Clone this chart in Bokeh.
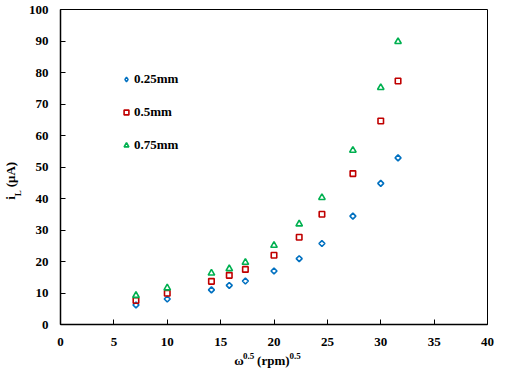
import math
from bokeh.plotting import figure
from bokeh.models import Range1d, Legend, LegendItem, FixedTicker, LinearAxis
from bokeh.embed import file_html
from bokeh.resources import INLINE

# ---- data ----
x_sqrt_rpm = [7.07, 10.0, 14.14, 15.81, 17.32, 20.0, 22.36, 24.49, 27.39, 30.0, 31.62]
i_025mm = [6.2, 8.1, 11.0, 12.4, 13.8, 17.0, 20.9, 25.7, 34.4, 44.8, 52.9]
i_05mm = [7.6, 9.9, 13.7, 15.6, 17.5, 22.0, 27.7, 35.0, 47.9, 64.6, 77.3]
i_075mm = [9.2, 11.6, 16.3, 17.7, 19.7, 25.1, 31.9, 40.3, 55.3, 75.2, 89.8]
series_names = ["0.25mm", "0.5mm", "0.75mm"]
x_ticks = [0, 5, 10, 15, 20, 25, 30, 35, 40]
y_ticks = [0, 10, 20, 30, 40, 50, 60, 70, 80, 90, 100]

# axis title pieces (text) and where along the axis they are centred (layout)
x_title_main = {16.72: "ω", 19.94: "(rpm)"}
x_title_sup = {17.63: "0.5", 21.97: "0.5"}
y_title_main = {40.2: "i", 47.6: "(μA)"}
y_title_sub = {41.7: "L"}

FONT = "Liberation Serif"
FS = "13px"
FS_SMALL = "9px"

W, H = 514, 373
L, T, R, B = 58, 9, 27, 49

p = figure(width=W, height=H, output_backend="svg", toolbar_location=None,
           x_range=Range1d(0, 40), y_range=Range1d(0, 100),
           min_border_left=L, min_border_top=T, min_border_right=R, min_border_bottom=B,
           background_fill_color="white", border_fill_color="white")
p.outline_line_color = "black"
p.outline_line_width = 1
p.xgrid.visible = False
p.ygrid.visible = False

xa, ya = p.xaxis[0], p.yaxis[0]
for ax in (xa, ya):
    ax.axis_line_color = "black"
    ax.axis_line_width = 1.5
    ax.major_tick_in = 5
    ax.major_tick_out = 0
    ax.major_tick_line_color = "black"
    ax.minor_tick_line_color = None
    ax.major_label_text_font = FONT
    ax.major_label_text_font_style = "bold"
    ax.major_label_text_font_size = FS
    ax.major_label_text_color = "black"
xa.ticker = FixedTicker(ticks=x_ticks)
ya.ticker = FixedTicker(ticks=y_ticks)
xa.major_label_standoff = 13
ya.major_label_standoff = 12


def title_axis(pieces, size, standoff, vertical=False):
    ax = LinearAxis(ticker=FixedTicker(ticks=list(pieces.keys())),
                    major_label_overrides=dict(pieces),
                    axis_line_color=None, major_tick_line_color=None,
                    minor_tick_line_color=None, major_tick_in=0, major_tick_out=0,
                    major_label_standoff=standoff,
                    major_label_text_font=FONT, major_label_text_font_style="bold",
                    major_label_text_font_size=size, major_label_text_color="black")
    if vertical:
        ax.major_label_orientation = "vertical"
    return ax


# x title: ω^0.5 (rpm)^0.5  (superscripts first, main text pulled up beside them)
p.add_layout(title_axis(x_title_sup, FS_SMALL, 4), "below")
p.add_layout(title_axis(x_title_main, FS, -9), "below")
# y title: i_L (μA)  (subscript nearer the axis, main text pulled in beside it)
p.add_layout(title_axis(y_title_sub, FS_SMALL, 2, vertical=True), "left")
p.add_layout(title_axis(y_title_main, FS, -8, vertical=True), "left")

BLUE, RED, GREEN = "#0070C0", "#C00000", "#00B050"

r1 = p.scatter(x_sqrt_rpm, i_025mm, marker="square", angle=math.pi / 4, size=4.2,
               fill_color=None, line_color=BLUE, line_width=1.6)
r1_leg = p.scatter(x_sqrt_rpm, i_025mm, marker="diamond", size=6,
                   fill_color=None, line_color=BLUE, line_width=1.4, visible=False)
r2 = p.scatter(x_sqrt_rpm, i_05mm, marker="square", size=5.5,
               fill_color=None, line_color=RED, line_width=1.6)
r3 = p.scatter(x_sqrt_rpm, i_075mm, marker="triangle", size=6.5,
               fill_color=None, line_color=GREEN, line_width=1.6)

legend = Legend(items=[LegendItem(label=series_names[0], renderers=[r1_leg]),
                       LegendItem(label=series_names[1], renderers=[r2]),
                       LegendItem(label=series_names[2], renderers=[r3])],
                location=(60, 171), orientation="vertical",
                glyph_width=12, glyph_height=12, label_height=12, spacing=17,
                label_standoff=2, padding=0, margin=0,
                border_line_color=None, background_fill_alpha=0,
                label_text_font=FONT, label_text_font_style="bold",
                label_text_font_size=FS, label_text_color="black")
p.add_layout(legend)

open("out.html", "w").write(file_html(p, INLINE))
